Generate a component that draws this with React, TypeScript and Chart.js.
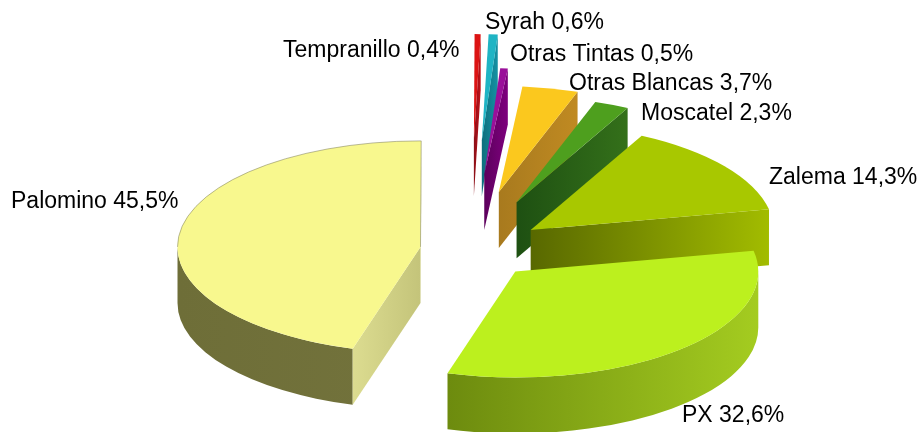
import React, { useEffect, useRef } from "react";
import { Chart, registerables } from "chart.js";

Chart.register(...registerables);

const categories = ["Palomino", "Tempranillo", "Syrah", "Otras Tintas", "Otras Blancas", "Moscatel", "Zalema", "PX"];
const shares = [45.5, 0.4, 0.6, 0.5, 3.7, 2.3, 14.3, 32.6];
const tickLabels = ["45,5%", "0,4%", "0,6%", "0,5%", "3,7%", "2,3%", "14,3%", "32,6%"];
const explode = [50, 252, 252, 175, 136, 119, 76, 67];
const topColors = ["#F8F88E", "#DC1414", "#1FB4C4", "#9A109A", "#FBC81E", "#4E9F1E", "#A8C800", "#BCF01E"];
const wallLeft = ["#6E6E38", "#7A0A12", "#0E6E7C", "#5C005C", "#A87A1E", "#1E5012", "#586800", "#6C8A0E"];
const wallRight = ["#787840", "#4A0810", "#0A5562", "#4A004A", "#C08A22", "#34701A", "#A2BC00", "#A4CC20"];
const cutLeft = ["#DCDC90", "#8A1018", "#0E6E7C", "#5C005C", "#A87A1E", "#1E5012", "#586800", "#6C8A0E"];
const cutRight = ["#C4C47A", "#C01018", "#1592A4", "#7E007E", "#C08A22", "#34701A", "#A2BC00", "#A4CC20"];
const labelX = [11, 283, 485, 510, 569, 641, 769, 682];
const labelY = [208, 57, 29, 61, 90, 120, 184, 422];

const SQUASH = 106 / 243;
const DEPTH = 56;
const FONT = '23px "Liberation Sans", Arial, sans-serif';

const pie3d = {
  id: "pie3d",
  beforeDatasetDraw(chart: any) {
    const ctx: CanvasRenderingContext2D = chart.ctx;
    const arcs: any[] = chart.getDatasetMeta(0).data;
    const slices = arcs.map((arc, i) => {
      const mid = (arc.startAngle + arc.endAngle) / 2;
      const off = arc.options.offset;
      return {
        i,
        start: arc.startAngle,
        end: arc.endAngle,
        rx: arc.outerRadius,
        ry: arc.outerRadius * SQUASH,
        cx: arc.x + Math.cos(mid) * off,
        cy: arc.y + Math.sin(mid) * off * SQUASH,
      };
    });
    slices.sort((a, b) => a.cy - b.cy);
    ctx.save();
    for (const s of slices) {
      const hGrad = (x0: number, x1: number, c0: string, c1: string) => {
        const g = ctx.createLinearGradient(x0, 0, x1 === x0 ? x0 + 1 : x1, 0);
        g.addColorStop(0, c0);
        g.addColorStop(1, c1);
        return g;
      };
      // outer rim, only the part facing the viewer
      for (let k = 0; k < 2; k++) {
        const lo = Math.max(s.start, k * 2 * Math.PI);
        const hi = Math.min(s.end, k * 2 * Math.PI + Math.PI);
        if (hi <= lo) continue;
        ctx.beginPath();
        ctx.ellipse(s.cx, s.cy, s.rx, s.ry, 0, lo, hi);
        ctx.ellipse(s.cx, s.cy + DEPTH, s.rx, s.ry, 0, hi, lo, true);
        ctx.closePath();
        ctx.fillStyle = hGrad(s.cx - s.rx, s.cx + s.rx, wallLeft[s.i], wallRight[s.i]);
        if (s.i === 7) ctx.fillStyle = hGrad(s.cx - s.rx * 0.3, s.cx + s.rx, wallLeft[s.i], wallRight[s.i]);
        ctx.fill();
      }
      // cut faces
      for (const a of [s.start, s.end]) {
        const isEnd = a === s.end;
        const visible = isEnd ? Math.cos(a) > 0.001 : Math.cos(a) < -0.001;
        if (!visible) continue;
        const px = s.cx + Math.cos(a) * s.rx;
        const py = s.cy + Math.sin(a) * s.ry;
        ctx.beginPath();
        ctx.moveTo(s.cx, s.cy);
        ctx.lineTo(px, py);
        ctx.lineTo(px, py + DEPTH);
        ctx.lineTo(s.cx, s.cy + DEPTH);
        ctx.closePath();
        ctx.fillStyle = hGrad(Math.min(px, s.cx), Math.max(px, s.cx), cutLeft[s.i], cutRight[s.i]);
        ctx.fill();
      }
      // top face
      ctx.beginPath();
      ctx.moveTo(s.cx, s.cy);
      ctx.ellipse(s.cx, s.cy, s.rx, s.ry, 0, s.start, s.end);
      ctx.closePath();
      ctx.fillStyle = topColors[s.i];
      ctx.fill();
      // thin back edge of the largest slice
      if (s.i === 0) {
        ctx.beginPath();
        ctx.ellipse(s.cx, s.cy, s.rx, s.ry, 0, Math.PI, s.end);
        ctx.lineTo(s.cx, s.cy);
        ctx.strokeStyle = "rgba(130,130,95,0.55)";
        ctx.lineWidth = 1;
        ctx.stroke();
      }
    }
    ctx.restore();
    return false;
  },
  afterDraw(chart: any) {
    const ctx: CanvasRenderingContext2D = chart.ctx;
    ctx.save();
    ctx.font = FONT;
    ctx.fillStyle = "#000000";
    ctx.textAlign = "left";
    ctx.textBaseline = "alphabetic";
    categories.forEach((name, i) => {
      ctx.fillText(`${name} ${tickLabels[i]}`, labelX[i], labelY[i]);
    });
    ctx.restore();
  },
};

export default function App() {
  const ref = useRef<HTMLCanvasElement | null>(null);
  useEffect(() => {
    const chart = new Chart(ref.current as HTMLCanvasElement, {
      type: "pie",
      data: {
        labels: categories,
        datasets: [
          {
            data: shares,
            offset: explode,
            backgroundColor: topColors,
            borderWidth: 0,
            radius: 243,
          } as any,
        ],
      },
      options: {
        responsive: false,
        animation: false,
        rotation: 196.2,
        layout: { padding: { left: 21, top: 68 } },
        events: [],
        plugins: { legend: { display: false }, tooltip: { enabled: false } },
      },
      plugins: [pie3d as any],
    });
    return () => chart.destroy();
  }, []);
  return (
    <canvas
      ref={ref}
      width={919}
      height={432}
      style={{ position: "fixed", left: 0, top: 0, width: 919, height: 432, display: "block", background: "#fff" }}
    />
  );
}
